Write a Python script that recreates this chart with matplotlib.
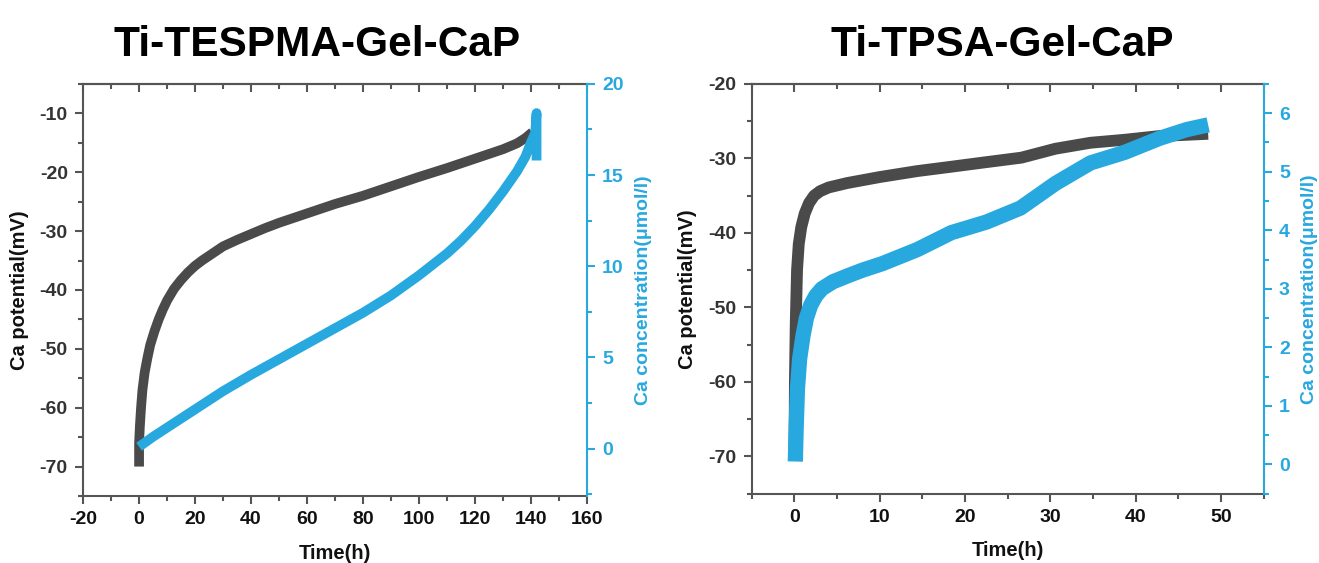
import numpy as np
import matplotlib.pyplot as plt
from matplotlib.ticker import MultipleLocator

plt.rcParams['font.family'] = ['Liberation Sans', 'DejaVu Sans']
plt.rcParams['font.weight'] = 'bold'
plt.rcParams['axes.unicode_minus'] = False

gray = '#4a4a4a'
blue = '#27a8df'
spine_col = '#555555'

# Ti-TESPMA-Gel-CaP
t_pot_a = [0, 0, 0.3, 0.7, 1.2, 2, 3, 4, 5.5, 7, 8.5, 10, 12.5, 15, 17.5, 20, 22.5, 25, 30, 35, 40, 45,
           50, 55, 60, 70, 80, 90, 100, 110, 120, 130, 135, 138, 140.5]
pot_a = [-70, -66, -63, -60, -57, -54, -51.5, -49.3, -47, -45, -43.3, -41.8, -39.8, -38.3, -37, -35.9,
         -35, -34.2, -32.6, -31.5, -30.5, -29.5, -28.6, -27.8, -27, -25.4, -24, -22.4, -20.8, -19.3,
         -17.7, -16.1, -15.1, -14.2, -13.2]
t_conc_a = [0, 5, 10, 15, 20, 30, 40, 50, 60, 70, 80, 90, 100, 110, 115, 120, 125, 130, 135, 138, 140,
            141.5, 142, 142]
conc_a = [0.1, 0.65, 1.15, 1.65, 2.15, 3.15, 4.05, 4.9, 5.75, 6.6, 7.45, 8.4, 9.5, 10.7, 11.4, 12.2,
          13.1, 14.1, 15.2, 16.0, 16.8, 17.3, 18.4, 15.8]

# Ti-TPSA-Gel-CaP
t_pot_b = [0, 0.05, 0.15, 0.3, 0.5, 0.8, 1.2, 1.7, 2.3, 3, 4, 6.2, 10, 14.4, 18.5, 22.5, 26.6, 30.6,
           34.7, 38.7, 42.8, 48.5]
pot_b = [-70.5, -60, -52, -45, -41.5, -39.2, -37.4, -36, -35, -34.4, -33.9, -33.3, -32.5, -31.7, -31.1,
         -30.5, -29.9, -28.7, -27.9, -27.5, -27.0, -26.7]
t_conc_b = [0.1, 0.2, 0.35, 0.6, 1.0, 1.4, 1.9, 2.5, 3.2, 4.5, 6.2, 8, 10.3, 14.4, 18.4, 22.5, 26.5,
            30.6, 34.7, 38.7, 42.8, 46, 48.5]
conc_b = [0.05, 0.64, 1.3, 1.8, 2.2, 2.5, 2.72, 2.88, 3.0, 3.12, 3.22, 3.32, 3.43, 3.67, 3.96, 4.14,
          4.38, 4.8, 5.15, 5.33, 5.57, 5.72, 5.8]

panels = [
    dict(title='Ti-TESPMA-Gel-CaP', title_x=0.465, pos=[0.063, 0.119, 0.382, 0.732],
         t_pot=t_pot_a, pot=pot_a, t_conc=t_conc_a, conc=conc_a,
         xlim=(-20, 160), xmaj=20, ylim=(-75, -5), ymaj=10, y2lim=(-2.6, 20), y2maj=5, lw=(7, 7)),
    dict(title='Ti-TPSA-Gel-CaP', title_x=0.49, pos=[0.570, 0.123, 0.388, 0.728],
         t_pot=t_pot_b, pot=pot_b, t_conc=t_conc_b, conc=conc_b,
         xlim=(-5, 55), xmaj=10, ylim=(-75, -20), ymaj=10, y2lim=(-0.5, 6.5), y2maj=1, lw=(8.5, 11)),
]

fig = plt.figure(figsize=(13.19, 5.63), dpi=100)

for p in panels:
    ax = fig.add_axes(p['pos'])
    ax2 = ax.twinx()
    ax.plot(p['t_pot'], p['pot'], color=gray, lw=p['lw'][0], solid_capstyle='butt', solid_joinstyle='round')
    ax2.plot(p['t_conc'], p['conc'], color=blue, lw=p['lw'][1], solid_capstyle='butt', solid_joinstyle='round')

    ax.set_xlim(p['xlim'])
    ax.set_ylim(p['ylim'])
    ax2.set_ylim(p['y2lim'])
    ax.xaxis.set_major_locator(MultipleLocator(p['xmaj']))
    ax.xaxis.set_minor_locator(MultipleLocator(p['xmaj'] / 2))
    ax.yaxis.set_major_locator(MultipleLocator(p['ymaj']))
    ax.yaxis.set_minor_locator(MultipleLocator(p['ymaj'] / 2))
    ax2.yaxis.set_major_locator(MultipleLocator(p['y2maj']))
    ax2.yaxis.set_minor_locator(MultipleLocator(p['y2maj'] / 2))

    for s in ['left', 'bottom', 'top']:
        ax.spines[s].set_color(spine_col)
        ax.spines[s].set_linewidth(1.5)
        ax2.spines[s].set_visible(False)
    ax.spines['right'].set_visible(False)
    ax2.spines['right'].set_color(blue)
    ax2.spines['right'].set_linewidth(1.5)

    ax.tick_params(axis='both', which='major', direction='out', length=6, width=1.5,
                   color=spine_col, labelsize=14, pad=5)
    ax.tick_params(axis='both', which='minor', direction='out', length=3.5, width=1.5, color=spine_col)
    ax.tick_params(axis='y', labelcolor='#333333')
    ax.tick_params(axis='x', labelcolor='#111111')
    ax2.tick_params(axis='y', which='major', direction='out', length=6, width=1.5,
                    color=blue, labelcolor=blue, labelsize=14, pad=5)
    ax2.tick_params(axis='y', which='minor', direction='out', length=3.5, width=1.5, color=blue)

    top = ax.secondary_xaxis('top')
    top.xaxis.set_major_locator(MultipleLocator(p['xmaj']))
    top.xaxis.set_minor_locator(MultipleLocator(p['xmaj'] / 2))
    top.tick_params(which='major', direction='in', length=6, width=1.5, color=spine_col, labeltop=False)
    top.tick_params(which='minor', direction='in', length=3.5, width=1.5, color=spine_col)
    top.spines['top'].set_color(spine_col)
    top.spines['top'].set_linewidth(1.5)

    ax.set_xlabel('Time(h)', fontsize=14.5, fontweight='bold', color='#111111', labelpad=11)
    ax.set_ylabel('Ca potential(mV)', fontsize=14.5, fontweight='bold', color='#111111', labelpad=8)
    ax2.set_ylabel('Ca concentration(\u03bcmol/l)', fontsize=14, fontweight='bold', color=blue, labelpad=8)
    ax.set_title(p['title'], fontsize=30.5, fontweight='bold', pad=20, x=p['title_x'])

fig.savefig('out.png', dpi=100)
